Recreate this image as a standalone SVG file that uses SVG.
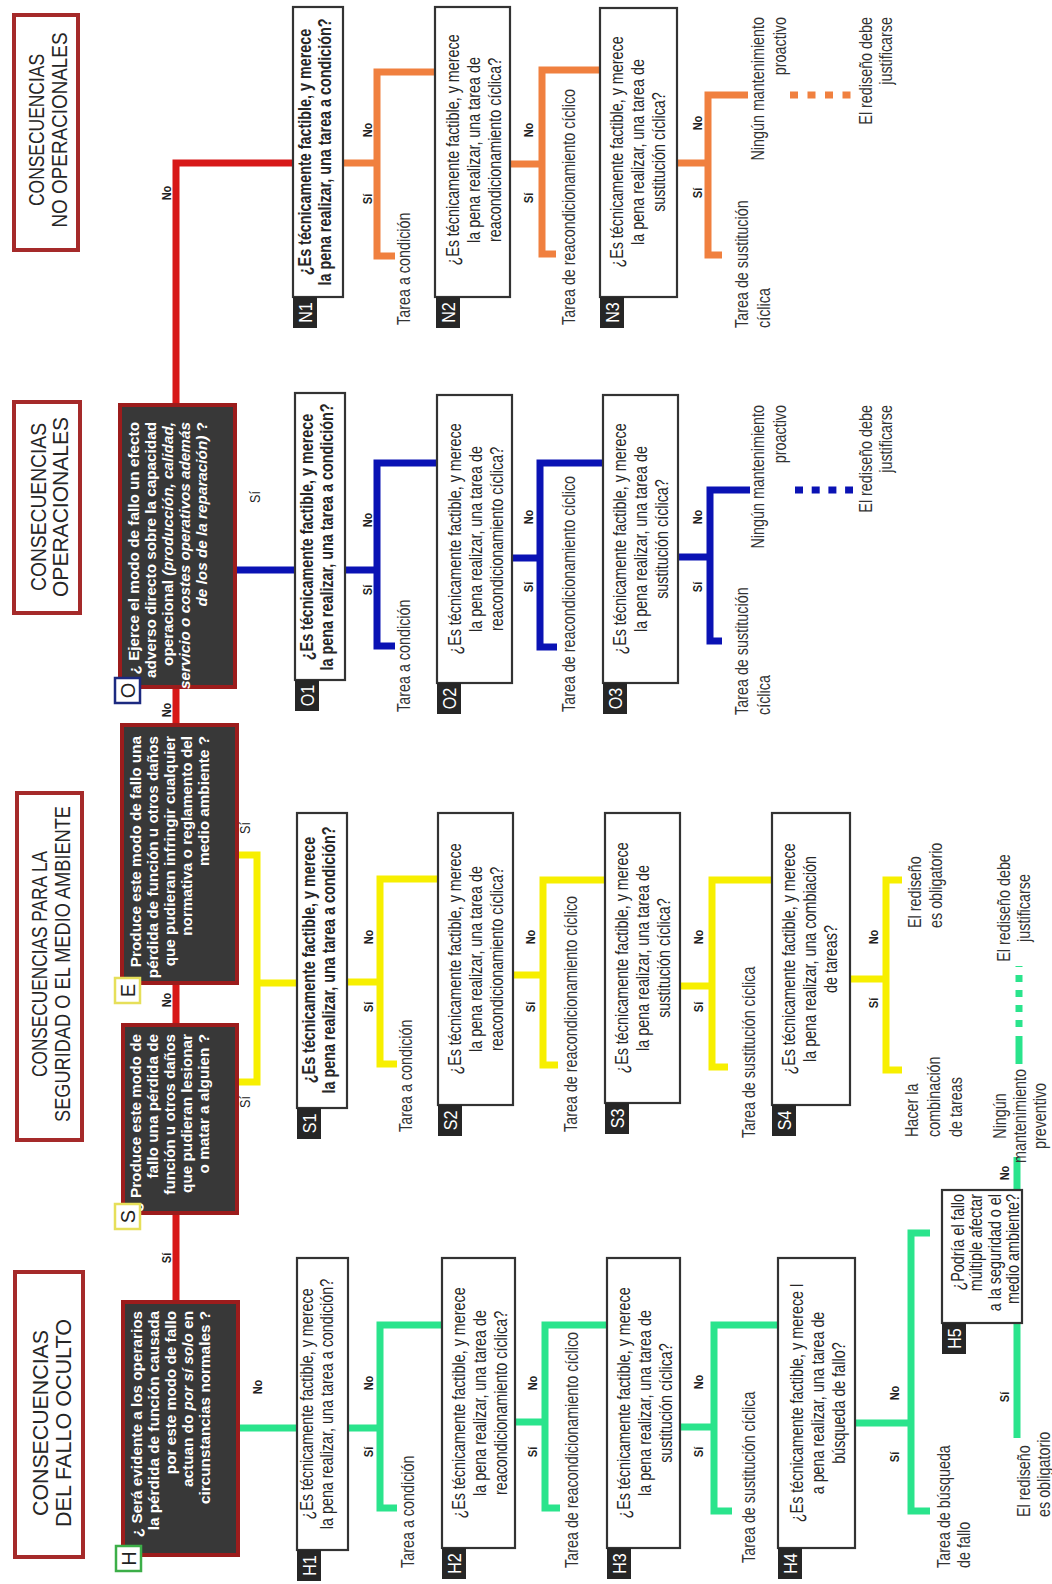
<svg xmlns="http://www.w3.org/2000/svg" width="1052" height="1584" viewBox="0 0 1052 1584">
  <style>
    text { font-family: "Liberation Sans", Arial, sans-serif; }
    .hd { font-size: 22px; fill: #262626; }
    .q { font-size: 17.5px; fill: #262626; }
    .b { font-weight: bold; }
    .dk { font-size: 15.3px; font-weight: bold; fill: #ffffff; }
    .r { font-size: 17.5px; fill: #333333; }
    .lb { font-size: 13px; font-weight: bold; fill: #222222; }
    .lr { font-size: 14px; fill: #222222; }
    .tg { font-size: 19px; fill: #ffffff; }
    .mk { font-size: 20px; fill: #222222; }
    .it { font-style: italic; }
    .hbox { fill: #ffffff; stroke: #a52a2a; stroke-width: 4; }
    .dark { fill: #383838; stroke: #9c1c1c; stroke-width: 4; }
    .box { fill: #ffffff; stroke: #333333; stroke-width: 2.2; }
    .tag { fill: #262626; }
    .ln { fill: none; stroke-width: 7; stroke-linejoin: miter; stroke-linecap: butt; }
    .red { stroke: #d71818; }
    .org { stroke: #f0803f; }
    .blu { stroke: #0a12b4; }
    .yel { stroke: #f7ef00; }
    .grn { stroke: #2ae48c; }
  </style>

  <rect width="1052" height="1584" fill="#ffffff"/>

  <!-- connectors -->
  <g id="connectors">
    <path class="ln red" d="M176,405 V163 H293 M176,687 V725 M176,983 V1025 M176,1213 V1302"/>
    <!-- no operacionales -->
    <path class="ln org" d="M343,163 H377 M435,72 H377 V256 H395"/>
    <path class="ln org" d="M510,164 H542 M600,70 H542 V254 H556"/>
    <path class="ln org" d="M677,163 H708 M748,95 H708 V255 H722"/>
    <path class="ln org" d="M790,95 H853" stroke-dasharray="8 9.5"/>
    <!-- operacionales -->
    <path class="ln blu" d="M235,570 H295 M345,570 H377 M437,463 H377 V646 H395"/>
    <path class="ln blu" d="M512,558 H540 M603,463 H540 V647 H557"/>
    <path class="ln blu" d="M678,557 H710 M750,490 H710 V641 H722"/>
    <path class="ln blu" d="M795,490 H853" stroke-dasharray="8 8.7"/>
    <!-- seguridad / medio ambiente -->
    <path class="ln yel" d="M237,855 H257 V1082 H237 M257,983 H297"/>
    <path class="ln yel" d="M347,982 H380 M438,879 H380 V1064 H397"/>
    <path class="ln yel" d="M513,975 H543 M605,880 H543 V1065 H558"/>
    <path class="ln yel" d="M680,986 H712 M772,880 H712 V1067 H728"/>
    <path class="ln yel" d="M850,979 H886 M902,880 H886 V1070 H902"/>
    <!-- fallo oculto -->
    <path class="ln grn" d="M238,1428 H297"/>
    <path class="ln grn" d="M348,1428 H380 M442,1325 H380 V1508 H397"/>
    <path class="ln grn" d="M515,1422 H545 M607,1325 H545 V1508 H560"/>
    <path class="ln grn" d="M680,1427 H714 M778,1325 H714 V1511 H732"/>
    <path class="ln grn" d="M855,1423 H911 M930,1233 H911 V1511 H930"/>
    <path class="ln grn" d="M1017,1323 V1438 M1017,1190 V1157"/>
    <path class="ln grn" d="M1019,1064 V1036"/>
    <path class="ln grn" d="M1019,1027 V966" stroke-dasharray="7 8"/>
  </g>

  <!-- header boxes -->
  <g id="hdr-no-operacionales">
    <rect class="hbox" x="14" y="15" width="64" height="235"/>
    <text class="hd" text-anchor="middle" transform="translate(44,130) rotate(-90)"><tspan x="0" y="0" textLength="152" lengthAdjust="spacingAndGlyphs">CONSECUENCIAS</tspan><tspan x="0" y="23" textLength="195" lengthAdjust="spacingAndGlyphs">NO OPERACIONALES</tspan></text>
  </g>
  <g id="hdr-operacionales">
    <rect class="hbox" x="14" y="402" width="66" height="211"/>
    <text class="hd" text-anchor="middle" transform="translate(46,507) rotate(-90)"><tspan x="0" y="0" textLength="168" lengthAdjust="spacingAndGlyphs">CONSECUENCIAS</tspan><tspan x="0" y="22" textLength="180" lengthAdjust="spacingAndGlyphs">OPERACIONALES</tspan></text>
  </g>
  <g id="hdr-seguridad">
    <rect class="hbox" x="17" y="793" width="65" height="347"/>
    <text class="hd" text-anchor="middle" transform="translate(47,964) rotate(-90)"><tspan x="0" y="0" textLength="226" lengthAdjust="spacingAndGlyphs">CONSECUENCIAS PARA LA</tspan><tspan x="0" y="23" textLength="316" lengthAdjust="spacingAndGlyphs">SEGURIDAD O EL MEDIO AMBIENTE</tspan></text>
  </g>
  <g id="hdr-fallo-oculto">
    <rect class="hbox" x="15" y="1272" width="68" height="285"/>
    <text class="hd" text-anchor="middle" transform="translate(48,1423) rotate(-90)"><tspan x="0" y="0" textLength="186" lengthAdjust="spacingAndGlyphs">CONSECUENCIAS</tspan><tspan x="0" y="23" textLength="208" lengthAdjust="spacingAndGlyphs">DEL FALLO OCULTO</tspan></text>
  </g>

  <!-- main decision boxes -->
  <g id="node-O">
    <rect class="dark" x="120" y="405" width="115" height="282"/>
    <text class="dk" text-anchor="end" transform="translate(139,422) rotate(-90)"><tspan x="0" y="0">¿ Ejerce el modo de fallo un efecto</tspan><tspan x="0" y="17">adverso directo sobre la capacidad</tspan><tspan x="0" y="34">operacional <tspan class="it">(producción, calidad,</tspan></tspan><tspan x="0" y="51" class="it">servicio o costes operativos además</tspan><tspan x="0" y="68"><tspan class="it">de los de la reparación)</tspan> ?</tspan></text>
    <rect x="115" y="678" width="25" height="25" fill="#ffffff" stroke="#1c2a80" stroke-width="2.5"/>
    <text class="mk" text-anchor="middle" transform="translate(134.5,690.5) rotate(-90)">O</text>
  </g>
  <g id="node-E">
    <rect class="dark" x="122" y="725" width="115" height="258"/>
    <text class="dk" text-anchor="end" transform="translate(141,736) rotate(-90)"><tspan x="0" y="0">Produce este modo de fallo una</tspan><tspan x="0" y="17">pérdida de función u otros daños</tspan><tspan x="0" y="34">que pudieran infringir cualquier</tspan><tspan x="0" y="51">normativa o reglamento del</tspan><tspan x="0" y="68">medio ambiente ?</tspan></text>
    <rect x="115" y="978" width="25" height="25" fill="#ffffff" stroke="#e6df5a" stroke-width="2.5"/>
    <text class="mk" text-anchor="middle" transform="translate(134.5,990.5) rotate(-90)">E</text>
  </g>
  <g id="node-S">
    <rect class="dark" x="123" y="1025" width="114" height="188"/>
    <text class="dk" text-anchor="end" transform="translate(141,1034) rotate(-90)"><tspan x="0" y="0">¿ Produce este modo de</tspan><tspan x="0" y="17">fallo una pérdida de</tspan><tspan x="0" y="34">función u otros daños</tspan><tspan x="0" y="51">que pudieran lesionar</tspan><tspan x="0" y="68">o matar a alguien ?</tspan></text>
    <rect x="115" y="1204" width="25" height="25" fill="#ffffff" stroke="#e6df5a" stroke-width="2.5"/>
    <text class="mk" text-anchor="middle" transform="translate(134.5,1216.5) rotate(-90)">S</text>
  </g>
  <g id="node-H">
    <rect class="dark" x="123" y="1302" width="115" height="253"/>
    <text class="dk" text-anchor="end" transform="translate(142,1311) rotate(-90)"><tspan x="0" y="0">¿ Será evidente a los operarios</tspan><tspan x="0" y="17">la pérdida de función causada</tspan><tspan x="0" y="34">por este modo de fallo</tspan><tspan x="0" y="51">actuan do <tspan class="it">por sí solo</tspan> en</tspan><tspan x="0" y="68">circunstancias normales ?</tspan></text>
    <rect x="116" y="1546" width="25" height="25" fill="#ffffff" stroke="#3cae48" stroke-width="2.5"/>
    <text class="mk" text-anchor="middle" transform="translate(135.5,1558.5) rotate(-90)">H</text>
  </g>

  <!-- question boxes: no operacionales -->
  <g id="node-N1">
    <rect class="box" x="293" y="7" width="50" height="290"/>
    <rect class="tag" x="293" y="297" width="24" height="31"/>
    <text class="tg" text-anchor="middle" transform="translate(312,312.5) rotate(-90) scale(.85,1)">N1</text>
    <text class="q b" text-anchor="middle" transform="translate(311,152) rotate(-90) scale(.82,1)"><tspan x="0" y="0">¿Es técnicamente factible, y merece</tspan><tspan x="0" y="20">la pena realizar, una tarea a condición?</tspan></text>
  </g>
  <g id="node-N2">
    <rect class="box" x="435" y="7" width="75" height="290"/>
    <rect class="tag" x="436" y="297" width="24" height="31"/>
    <text class="tg" text-anchor="middle" transform="translate(455,312.5) rotate(-90) scale(.85,1)">N2</text>
    <text class="q" text-anchor="middle" transform="translate(459,150) rotate(-90) scale(.82,1)"><tspan x="0" y="0">¿Es técnicamente factible, y merece</tspan><tspan x="0" y="21">la pena realizar, una tarea de</tspan><tspan x="0" y="42">reacondicionamiento cíclica?</tspan></text>
  </g>
  <g id="node-N3">
    <rect class="box" x="600" y="8" width="77" height="289"/>
    <rect class="tag" x="600" y="297" width="24" height="31"/>
    <text class="tg" text-anchor="middle" transform="translate(619,312.5) rotate(-90) scale(.85,1)">N3</text>
    <text class="q" text-anchor="middle" transform="translate(623,152) rotate(-90) scale(.82,1)"><tspan x="0" y="0">¿Es técnicamente factible, y merece</tspan><tspan x="0" y="21">la pena realizar, una tarea de</tspan><tspan x="0" y="42">sustitución cíclica?</tspan></text>
  </g>

  <!-- question boxes: operacionales -->
  <g id="node-O1">
    <rect class="box" x="295" y="393" width="50" height="287"/>
    <rect class="tag" x="295" y="680" width="24" height="31"/>
    <text class="tg" text-anchor="middle" transform="translate(314,695.5) rotate(-90) scale(.85,1)">O1</text>
    <text class="q b" text-anchor="middle" transform="translate(313,537) rotate(-90) scale(.82,1)"><tspan x="0" y="0">¿Es técnicamente factible, y merece</tspan><tspan x="0" y="20">la pena realizar, una tarea a condición?</tspan></text>
  </g>
  <g id="node-O2">
    <rect class="box" x="437" y="395" width="75" height="288"/>
    <rect class="tag" x="437" y="683" width="24" height="31"/>
    <text class="tg" text-anchor="middle" transform="translate(456,698.5) rotate(-90) scale(.85,1)">O2</text>
    <text class="q" text-anchor="middle" transform="translate(461,539) rotate(-90) scale(.82,1)"><tspan x="0" y="0">¿Es técnicamente factible, y merece</tspan><tspan x="0" y="21">la pena realizar, una tarea de</tspan><tspan x="0" y="42">reacondicionamiento cíclica?</tspan></text>
  </g>
  <g id="node-O3">
    <rect class="box" x="603" y="395" width="75" height="288"/>
    <rect class="tag" x="603" y="683" width="24" height="31"/>
    <text class="tg" text-anchor="middle" transform="translate(622,698.5) rotate(-90) scale(.85,1)">O3</text>
    <text class="q" text-anchor="middle" transform="translate(626,539) rotate(-90) scale(.82,1)"><tspan x="0" y="0">¿Es técnicamente factible, y merece</tspan><tspan x="0" y="21">la pena realizar, una tarea de</tspan><tspan x="0" y="42">sustitución cíclica?</tspan></text>
  </g>

  <!-- question boxes: seguridad / medio ambiente -->
  <g id="node-S1">
    <rect class="box" x="297" y="813" width="50" height="295"/>
    <rect class="tag" x="297" y="1108" width="24" height="31"/>
    <text class="tg" text-anchor="middle" transform="translate(316,1123.5) rotate(-90) scale(.85,1)">S1</text>
    <text class="q b" text-anchor="middle" transform="translate(315,960) rotate(-90) scale(.82,1)"><tspan x="0" y="0">¿Es técnicamente factible, y merece</tspan><tspan x="0" y="20">la pena realizar, una tarea a condición?</tspan></text>
  </g>
  <g id="node-S2">
    <rect class="box" x="438" y="813" width="75" height="292"/>
    <rect class="tag" x="438" y="1105" width="24" height="31"/>
    <text class="tg" text-anchor="middle" transform="translate(457,1120.5) rotate(-90) scale(.85,1)">S2</text>
    <text class="q" text-anchor="middle" transform="translate(461,959) rotate(-90) scale(.82,1)"><tspan x="0" y="0">¿Es técnicamente factible, y merece</tspan><tspan x="0" y="21">la pena realizar, una tarea de</tspan><tspan x="0" y="42">reacondicionamiento cíclica?</tspan></text>
  </g>
  <g id="node-S3">
    <rect class="box" x="605" y="813" width="75" height="290"/>
    <rect class="tag" x="605" y="1103" width="24" height="31"/>
    <text class="tg" text-anchor="middle" transform="translate(624,1118.5) rotate(-90) scale(.85,1)">S3</text>
    <text class="q" text-anchor="middle" transform="translate(628,958) rotate(-90) scale(.82,1)"><tspan x="0" y="0">¿Es técnicamente factible, y merece</tspan><tspan x="0" y="21">la pena realizar, una tarea de</tspan><tspan x="0" y="42">sustitución cíclica?</tspan></text>
  </g>
  <g id="node-S4">
    <rect class="box" x="772" y="813" width="78" height="292"/>
    <rect class="tag" x="772" y="1105" width="24" height="31"/>
    <text class="tg" text-anchor="middle" transform="translate(791,1120.5) rotate(-90) scale(.85,1)">S4</text>
    <text class="q" text-anchor="middle" transform="translate(795,959) rotate(-90) scale(.82,1)"><tspan x="0" y="0">¿Es técnicamente factible, y merece</tspan><tspan x="0" y="21">la pena realizar, una combiación</tspan><tspan x="0" y="42">de tareas?</tspan></text>
  </g>

  <!-- question boxes: fallo oculto -->
  <g id="node-H1">
    <rect class="box" x="297" y="1258" width="51" height="292"/>
    <rect class="tag" x="297" y="1550" width="24" height="31"/>
    <text class="tg" text-anchor="middle" transform="translate(316,1565.5) rotate(-90) scale(.85,1)">H1</text>
    <text class="q" text-anchor="middle" transform="translate(313,1404) rotate(-90) scale(.82,1)"><tspan x="0" y="0">¿Es técnicamente factible, y merece</tspan><tspan x="0" y="20">la pena realizar, una tarea a condición?</tspan></text>
  </g>
  <g id="node-H2">
    <rect class="box" x="442" y="1258" width="73" height="290"/>
    <rect class="tag" x="442" y="1548" width="24" height="31"/>
    <text class="tg" text-anchor="middle" transform="translate(461,1563.5) rotate(-90) scale(.85,1)">H2</text>
    <text class="q" text-anchor="middle" transform="translate(465,1403) rotate(-90) scale(.82,1)"><tspan x="0" y="0">¿Es técnicamente factible, y merece</tspan><tspan x="0" y="21">la pena realizar, una tarea de</tspan><tspan x="0" y="42">reacondicionamiento cíclica?</tspan></text>
  </g>
  <g id="node-H3">
    <rect class="box" x="607" y="1258" width="73" height="290"/>
    <rect class="tag" x="607" y="1548" width="24" height="31"/>
    <text class="tg" text-anchor="middle" transform="translate(626,1563.5) rotate(-90) scale(.85,1)">H3</text>
    <text class="q" text-anchor="middle" transform="translate(630,1403) rotate(-90) scale(.82,1)"><tspan x="0" y="0">¿Es técnicamente factible, y merece</tspan><tspan x="0" y="21">la pena realizar, una tarea de</tspan><tspan x="0" y="42">sustitución cíclica?</tspan></text>
  </g>
  <g id="node-H4">
    <rect class="box" x="778" y="1258" width="77" height="290"/>
    <rect class="tag" x="778" y="1548" width="24" height="31"/>
    <text class="tg" text-anchor="middle" transform="translate(797,1563.5) rotate(-90) scale(.85,1)">H4</text>
    <text class="q" text-anchor="middle" transform="translate(803,1403) rotate(-90) scale(.82,1)"><tspan x="0" y="0">¿Es técnicamente factible, y merece l</tspan><tspan x="0" y="21">a pena realizar, una tarea de</tspan><tspan x="0" y="42">búsqueda de fallo?</tspan></text>
  </g>
  <g id="node-H5">
    <rect class="box" x="942" y="1190" width="80" height="133"/>
    <rect class="tag" x="942" y="1323" width="24" height="31"/>
    <text class="tg" text-anchor="middle" transform="translate(961,1338.5) rotate(-90) scale(.85,1)">H5</text>
    <text class="q" text-anchor="end" transform="translate(964,1194) rotate(-90) scale(.82,1)"><tspan x="0" y="0">¿Podría el fallo</tspan><tspan x="0" y="18.5">múltiple afectar</tspan><tspan x="0" y="37">a la seguridad o el</tspan><tspan x="0" y="55.5">medio ambiente?</tspan></text>
  </g>

  <!-- outcomes -->
  <g id="outcomes">
    <text class="r" transform="translate(410,325) rotate(-90) scale(.82,1)">Tarea a condición</text>
    <text class="r" transform="translate(575,325) rotate(-90) scale(.82,1)">Tarea de reacondicionamiento cíclico</text>
    <text class="r" transform="translate(748,328) rotate(-90) scale(.82,1)"><tspan x="0" y="0">Tarea de sustitución</tspan><tspan x="0" y="22">cíclica</tspan></text>
    <text class="r" text-anchor="end" transform="translate(764,17) rotate(-90) scale(.82,1)"><tspan x="0" y="0">Ningún mantenimiento</tspan><tspan x="0" y="22">proactivo</tspan></text>
    <text class="r" text-anchor="end" transform="translate(872,17) rotate(-90) scale(.82,1)"><tspan x="0" y="0">El rediseño debe</tspan><tspan x="0" y="20">justificarse</tspan></text>

    <text class="r" transform="translate(410,712) rotate(-90) scale(.82,1)">Tarea a condición</text>
    <text class="r" transform="translate(575,712) rotate(-90) scale(.82,1)">Tarea de reacondicionamiento cíclico</text>
    <text class="r" transform="translate(748,715) rotate(-90) scale(.82,1)"><tspan x="0" y="0">Tarea de sustitución</tspan><tspan x="0" y="22">cíclica</tspan></text>
    <text class="r" text-anchor="end" transform="translate(764,405) rotate(-90) scale(.82,1)"><tspan x="0" y="0">Ningún mantenimiento</tspan><tspan x="0" y="22">proactivo</tspan></text>
    <text class="r" text-anchor="end" transform="translate(872,405) rotate(-90) scale(.82,1)"><tspan x="0" y="0">El rediseño debe</tspan><tspan x="0" y="20">justificarse</tspan></text>

    <text class="r" transform="translate(412,1132) rotate(-90) scale(.82,1)">Tarea a condición</text>
    <text class="r" transform="translate(577,1132) rotate(-90) scale(.82,1)">Tarea de reacondicionamiento cíclico</text>
    <text class="r" transform="translate(755,1138) rotate(-90) scale(.82,1)">Tarea de sustitución cíclica</text>
    <text class="r" transform="translate(918,1137) rotate(-90) scale(.82,1)"><tspan x="0" y="0">Hacer la</tspan><tspan x="0" y="22">combinación</tspan><tspan x="0" y="44">de tareas</tspan></text>
    <text class="r" transform="translate(921,928) rotate(-90) scale(.82,1)"><tspan x="0" y="0">El rediseño</tspan><tspan x="0" y="21">es obligatorio</tspan></text>

    <text class="r" transform="translate(414,1568) rotate(-90) scale(.82,1)">Tarea a condición</text>
    <text class="r" transform="translate(578,1568) rotate(-90) scale(.82,1)">Tarea de reacondicionamiento cíclico</text>
    <text class="r" transform="translate(755,1563) rotate(-90) scale(.82,1)">Tarea de sustitución cíclica</text>
    <text class="r" transform="translate(950,1568) rotate(-90) scale(.82,1)"><tspan x="0" y="0">Tarea de búsqueda</tspan><tspan x="0" y="20">de fallo</tspan></text>
    <text class="r" transform="translate(1030,1517) rotate(-90) scale(.82,1)"><tspan x="0" y="0">El rediseño</tspan><tspan x="0" y="20">es obligatorio</tspan></text>
    <text class="r" text-anchor="middle" transform="translate(1006,1116) rotate(-90) scale(.82,1)"><tspan x="0" y="0">Ningún</tspan><tspan x="0" y="20">mantenimiento</tspan><tspan x="0" y="40">preventivo</tspan></text>
    <text class="r" text-anchor="middle" transform="translate(1010,908) rotate(-90) scale(.82,1)"><tspan x="0" y="0">El rediseño debe</tspan><tspan x="0" y="20">justificarse</tspan></text>
  </g>

  <!-- branch labels -->
  <g id="labels">
    <text class="lb" text-anchor="middle" transform="translate(171,193) rotate(-90) scale(.85,1)">No</text>
    <text class="lb" text-anchor="middle" transform="translate(171,710) rotate(-90) scale(.85,1)">No</text>
    <text class="lb" text-anchor="middle" transform="translate(171,1000) rotate(-90) scale(.85,1)">No</text>
    <text class="lb" text-anchor="middle" transform="translate(171,1258) rotate(-90) scale(.85,1)">Sí</text>
    <text class="lr" text-anchor="middle" transform="translate(260,497) rotate(-90) scale(.9,1)">Sí</text>
    <text class="lr" text-anchor="middle" transform="translate(250,828) rotate(-90) scale(.9,1)">Sí</text>
    <text class="lr" text-anchor="middle" transform="translate(250,1102) rotate(-90) scale(.9,1)">Sí</text>
    <text class="lb" text-anchor="middle" transform="translate(262,1387) rotate(-90) scale(.85,1)">No</text>

    <text class="lb" text-anchor="middle" transform="translate(372,130) rotate(-90) scale(.85,1)">No</text>
    <text class="lb" text-anchor="middle" transform="translate(372,199) rotate(-90) scale(.85,1)">Sí</text>
    <text class="lb" text-anchor="middle" transform="translate(533,130) rotate(-90) scale(.85,1)">No</text>
    <text class="lb" text-anchor="middle" transform="translate(533,198) rotate(-90) scale(.85,1)">Sí</text>
    <text class="lb" text-anchor="middle" transform="translate(702,123) rotate(-90) scale(.85,1)">No</text>
    <text class="lb" text-anchor="middle" transform="translate(702,193) rotate(-90) scale(.85,1)">Sí</text>

    <text class="lb" text-anchor="middle" transform="translate(372,520) rotate(-90) scale(.85,1)">No</text>
    <text class="lb" text-anchor="middle" transform="translate(372,590) rotate(-90) scale(.85,1)">Sí</text>
    <text class="lb" text-anchor="middle" transform="translate(533,517) rotate(-90) scale(.85,1)">No</text>
    <text class="lb" text-anchor="middle" transform="translate(533,587) rotate(-90) scale(.85,1)">Sí</text>
    <text class="lb" text-anchor="middle" transform="translate(702,517) rotate(-90) scale(.85,1)">No</text>
    <text class="lb" text-anchor="middle" transform="translate(702,587) rotate(-90) scale(.85,1)">Sí</text>

    <text class="lb" text-anchor="middle" transform="translate(373,937) rotate(-90) scale(.85,1)">No</text>
    <text class="lb" text-anchor="middle" transform="translate(373,1007) rotate(-90) scale(.85,1)">Sí</text>
    <text class="lb" text-anchor="middle" transform="translate(535,937) rotate(-90) scale(.85,1)">No</text>
    <text class="lb" text-anchor="middle" transform="translate(535,1007) rotate(-90) scale(.85,1)">Sí</text>
    <text class="lb" text-anchor="middle" transform="translate(703,937) rotate(-90) scale(.85,1)">No</text>
    <text class="lb" text-anchor="middle" transform="translate(703,1007) rotate(-90) scale(.85,1)">Sí</text>
    <text class="lb" text-anchor="middle" transform="translate(878,937) rotate(-90) scale(.85,1)">No</text>
    <text class="lb" text-anchor="middle" transform="translate(878,1003) rotate(-90) scale(.85,1)">Sí</text>

    <text class="lb" text-anchor="middle" transform="translate(373,1383) rotate(-90) scale(.85,1)">No</text>
    <text class="lb" text-anchor="middle" transform="translate(373,1452) rotate(-90) scale(.85,1)">Sí</text>
    <text class="lb" text-anchor="middle" transform="translate(537,1383) rotate(-90) scale(.85,1)">No</text>
    <text class="lb" text-anchor="middle" transform="translate(537,1452) rotate(-90) scale(.85,1)">Sí</text>
    <text class="lb" text-anchor="middle" transform="translate(703,1382) rotate(-90) scale(.85,1)">No</text>
    <text class="lb" text-anchor="middle" transform="translate(703,1452) rotate(-90) scale(.85,1)">Sí</text>
    <text class="lb" text-anchor="middle" transform="translate(899,1393) rotate(-90) scale(.85,1)">No</text>
    <text class="lb" text-anchor="middle" transform="translate(899,1457) rotate(-90) scale(.85,1)">Sí</text>
    <text class="lb" text-anchor="middle" transform="translate(1009,1397) rotate(-90) scale(.85,1)">Sí</text>
    <text class="lb" text-anchor="middle" transform="translate(1009,1173) rotate(-90) scale(.85,1)">No</text>
  </g>
</svg>
